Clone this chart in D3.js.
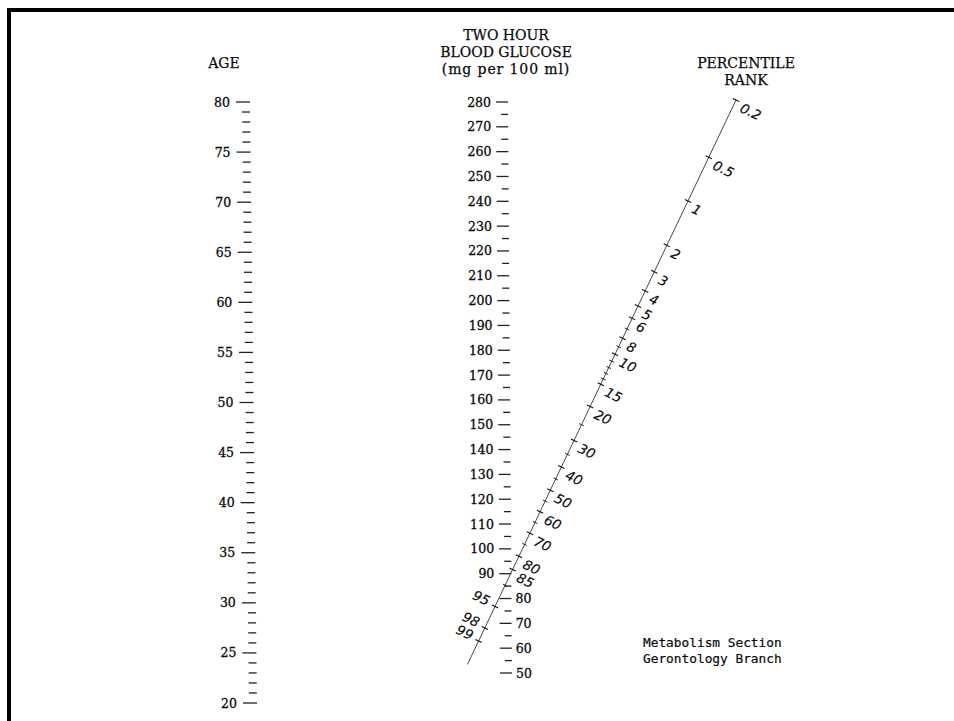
<!DOCTYPE html>
<html>
<head>
<meta charset="utf-8">
<script src="https://cdn.jsdelivr.net/npm/d3@7"></script>
<style>
  html, body { margin: 0; padding: 0; background: #fff; }
  svg { display: block; }
</style>
</head>
<body>
<svg id="chart" width="954" height="721"></svg>
<script>
// ---------------- DATA ----------------
const ageLabels = [20, 25, 30, 35, 40, 45, 50, 55, 60, 65, 70, 75, 80];
const ageMinor = [21,22,23,24,26,27,28,29,31,32,33,34,36,37,38,39,41,42,43,44,46,47,48,49,
                  51,52,53,54,56,57,58,59,61,62,63,64,66,67,68,69,71,72,73,74,76,77,78,79];

const glucoseLabels = [50, 60, 70, 80, 90, 100, 110, 120, 130, 140, 150, 160, 170, 180, 190,
                       200, 210, 220, 230, 240, 250, 260, 270, 280];
const glucoseMinor = [55, 65, 75, 85, 95, 105, 115, 125, 135, 145, 155, 165, 175, 185, 195,
                      205, 215, 225, 235, 245, 255, 265, 275];
const glucoseLabelsRight = [50, 60, 70, 80];   // labels printed right of the ticks

const pctLabels = [0.2, 0.5, 1, 2, 3, 4, 5, 6, 8, 10, 15, 20, 30, 40, 50, 60, 70, 80, 85, 95, 98, 99];
const pctLabelsLeft = [95, 98, 99];
const pctMinor = [7, 9, 11, 12, 13, 14, 25, 35, 45, 55, 65, 75, 90];
const pctRange = [0.2, 99.8];

const titles = {
  age: ["AGE"],
  glucose: ["TWO HOUR", "BLOOD GLUCOSE", "(mg per 100 ml)"],
  pct: ["PERCENTILE", "RANK"]
};
const credit = ["Metabolism Section", "Gerontology Branch"];

// ---------------- HELPERS ----------------
// inverse standard normal CDF (Acklam)
function probit(p) {
  const a = [-3.969683028665376e+01, 2.209460984245205e+02, -2.759285104469687e+02,
             1.383577518672690e+02, -3.066479806614716e+01, 2.506628277459239e+00];
  const b = [-5.447609879822406e+01, 1.615858368580409e+02, -1.556989798598866e+02,
             6.680131188771972e+01, -1.328068155288572e+01];
  const c = [-7.784894002430293e-03, -3.223964580411365e-01, -2.400758277161838e+00,
             -2.549671500836000e+00, 4.374664141464968e+00, 2.938163982698783e+00];
  const d = [7.784695709041462e-03, 3.224671290700398e-01, 2.445134137142996e+00,
             3.754408661907416e+00];
  const pl = 0.02425, ph = 1 - pl;
  let q, r;
  if (p < pl) {
    q = Math.sqrt(-2 * Math.log(p));
    return (((((c[0]*q+c[1])*q+c[2])*q+c[3])*q+c[4])*q+c[5]) /
           ((((d[0]*q+d[1])*q+d[2])*q+d[3])*q+1);
  } else if (p <= ph) {
    q = p - 0.5; r = q * q;
    return (((((a[0]*r+a[1])*r+a[2])*r+a[3])*r+a[4])*r+a[5])*q /
           (((((b[0]*r+b[1])*r+b[2])*r+b[3])*r+b[4])*r+1);
  } else {
    q = Math.sqrt(-2 * Math.log(1 - p));
    return -(((((c[0]*q+c[1])*q+c[2])*q+c[3])*q+c[4])*q+c[5]) /
            ((((d[0]*q+d[1])*q+d[2])*q+d[3])*q+1);
  }
}
// log-normal percentile transform
const SIG = 0.28;
const tPct = p => Math.exp(-SIG * probit(p / 100));

// ---------------- SCALES ----------------
const yAge = d3.scaleLinear().domain([20, 80]).range([703, 102]);
const xAge = d3.scaleLinear().domain([20, 80]).range([257, 250]);   // right end of ticks

const yGlu = d3.scaleLinear().domain([50, 280]).range([673, 102]);
const xGlu = d3.scaleLinear().domain([50, 280]).range([512, 508]);

const xPct = d3.scaleLinear().domain([tPct(0.2), tPct(99)]).range([736, 478.6]);
const yPct = d3.scaleLinear().domain([tPct(0.2), tPct(99)]).range([100, 641]);

const svg = d3.select("#chart");
const SERIF = "'DejaVu Serif', 'Liberation Serif', serif";
const INK = "#0a0a0a";

// ---------------- FRAME ----------------
svg.append("line").attr("x1", 7).attr("x2", 954).attr("y1", 10).attr("y2", 10)
  .attr("stroke", "#000").attr("stroke-width", 4);
svg.append("line").attr("x1", 9).attr("x2", 9).attr("y1", 8).attr("y2", 721)
  .attr("stroke", "#000").attr("stroke-width", 4);

function ink(sel, w) {
  return sel.attr("fill", INK).attr("stroke", INK).attr("stroke-width", w).attr("paint-order", "stroke");
}

// ---------------- AGE SCALE ----------------
const gAge = svg.append("g");
gAge.selectAll("line.minor").data(ageMinor).join("line")
  .attr("x1", d => xAge(d) - 8).attr("x2", d => xAge(d))
  .attr("y1", d => yAge(d)).attr("y2", d => yAge(d))
  .attr("stroke", "#222").attr("stroke-width", 1.3);
gAge.selectAll("line.major").data(ageLabels).join("line")
  .attr("x1", d => xAge(d) - 14).attr("x2", d => xAge(d))
  .attr("y1", d => yAge(d)).attr("y2", d => yAge(d))
  .attr("stroke", "#222").attr("stroke-width", 1.3);
ink(gAge.selectAll("text").data(ageLabels).join("text")
  .attr("x", d => xAge(d) - 20).attr("y", d => yAge(d)).attr("dy", "0.36em")
  .attr("text-anchor", "end").attr("font-family", SERIF).attr("font-size", 12.5)
  .text(d => d), 0.3);

// ---------------- GLUCOSE SCALE ----------------
const gGlu = svg.append("g");
gGlu.selectAll("line.minor").data(glucoseMinor).join("line")
  .attr("x1", d => xGlu(d) - 7).attr("x2", d => xGlu(d))
  .attr("y1", d => yGlu(d)).attr("y2", d => yGlu(d))
  .attr("stroke", "#222").attr("stroke-width", 1.3);
gGlu.selectAll("line.major").data(glucoseLabels).join("line")
  .attr("x1", d => xGlu(d) - 12).attr("x2", d => xGlu(d))
  .attr("y1", d => yGlu(d)).attr("y2", d => yGlu(d))
  .attr("stroke", "#222").attr("stroke-width", 1.3);
ink(gGlu.selectAll("text").data(glucoseLabels).join("text")
  .attr("x", d => glucoseLabelsRight.includes(d) ? xGlu(d) + 4 : xGlu(d) - 17)
  .attr("y", d => yGlu(d)).attr("dy", "0.36em")
  .attr("text-anchor", d => glucoseLabelsRight.includes(d) ? "start" : "end")
  .attr("font-family", SERIF).attr("font-size", 12.5)
  .text(d => d), 0.3);

// ---------------- PERCENTILE SCALE ----------------
const gP = svg.append("g");
const px = p => xPct(tPct(p));
const py = p => yPct(tPct(p));
const P0 = [px(pctRange[0]), py(pctRange[0])];
const P1 = [px(pctRange[1]), py(pctRange[1])];
const len = Math.hypot(P1[0] - P0[0], P1[1] - P0[1]);
const dir = [(P1[0] - P0[0]) / len, (P1[1] - P0[1]) / len];
const nrm = [dir[1], -dir[0]];                       // points right / down-right
const ang = Math.atan2(nrm[1], nrm[0]) * 180 / Math.PI;

gP.append("line")
  .attr("x1", P0[0]).attr("y1", P0[1]).attr("x2", P1[0]).attr("y2", P1[1])
  .attr("stroke", "#333").attr("stroke-width", 0.9);

gP.selectAll("line.minor").data(pctMinor).join("line")
  .attr("x1", d => px(d) - nrm[0] * 2.5).attr("y1", d => py(d) - nrm[1] * 2.5)
  .attr("x2", d => px(d) + nrm[0] * 2.5).attr("y2", d => py(d) + nrm[1] * 2.5)
  .attr("stroke", "#222").attr("stroke-width", 1);
gP.selectAll("line.major").data(pctLabels).join("line")
  .attr("x1", d => px(d) - nrm[0] * 3.5).attr("y1", d => py(d) - nrm[1] * 3.5)
  .attr("x2", d => px(d) + nrm[0] * 3.5).attr("y2", d => py(d) + nrm[1] * 3.5)
  .attr("stroke", "#111").attr("stroke-width", 1.1);

ink(gP.selectAll("text").data(pctLabels).join("text")
  .attr("transform", d => {
    const left = pctLabelsLeft.includes(d);
    const ox = left ? -6 : 5, oy = left ? -5 : 7;
    return `translate(${px(d) + ox},${py(d) + oy}) rotate(${ang})`;
  })
  .attr("dy", "0.36em")
  .attr("text-anchor", d => pctLabelsLeft.includes(d) ? "end" : "start")
  .attr("font-family", "'DejaVu Sans', 'Liberation Sans', sans-serif")
  .attr("font-style", "italic").attr("font-size", 13.5)
  .text(d => d), 0.15);

// ---------------- TITLES ----------------
function title(lines, cx, y0, step) {
  ink(svg.append("g").selectAll("text").data(lines).join("text")
    .attr("x", cx).attr("y", (d, i) => y0 + i * step)
    .attr("text-anchor", "middle").attr("font-family", SERIF)
    .attr("font-size", 14)
    .attr("letter-spacing", d => /[a-z]/.test(d) ? 0.9 : 0)
    .text(d => d), 0.25);
}
title(titles.age, 224, 68, 16);
title(titles.glucose, 506, 40, 17);
title(titles.pct, 746, 68, 17);

ink(svg.append("g").selectAll("text").data(credit).join("text")
  .attr("x", 643).attr("y", (d, i) => 647 + i * 16)
  .attr("font-family", "'DejaVu Sans Mono', 'Liberation Mono', monospace")
  .attr("font-size", 12.8).text(d => d), 0.2);
</script>
</body>
</html>
